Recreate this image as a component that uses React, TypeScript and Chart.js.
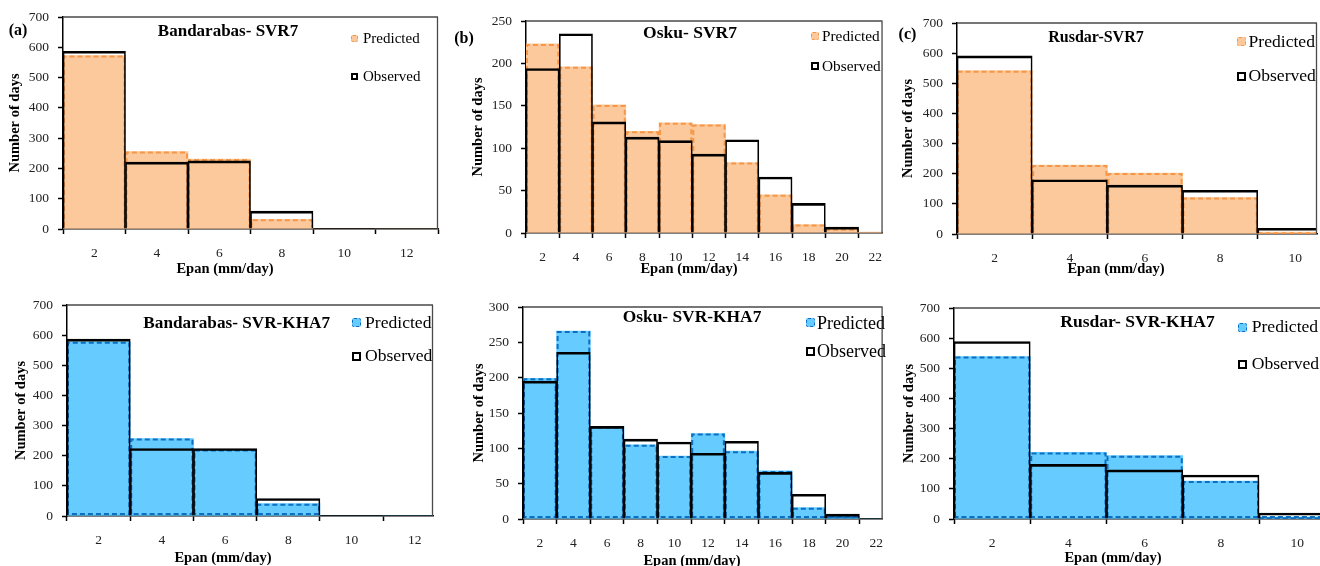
import React, { useEffect, useRef } from 'react';
import { Chart, registerables } from 'chart.js';

Chart.register(...registerables);

// ---------- DATA ----------
const bandarabasBins = [2, 4, 6, 8, 10, 12];
const bandarabasSvrObserved = [587, 221, 225, 59, 1, 0];
const bandarabasSvrPredicted = [573, 256, 231, 32, 0, 0];
const bandarabasKhaObserved = [587, 224, 224, 58, 2, 0];
const bandarabasKhaPredicted = [578, 257, 221, 41, 0, 0];

const oskuBins = [2, 4, 6, 8, 10, 12, 14, 16, 18, 20, 22];
const oskuSvrObserved = [194, 235, 131, 113, 109, 93, 110, 66, 35, 7, 0];
const oskuSvrPredicted = [223, 196, 151, 120, 130, 128, 83, 45, 10, 5, 1];
const oskuKhaObserved = [195, 236, 131, 113, 109, 93, 110, 66, 35, 7, 0];
const oskuKhaPredicted = [199, 266, 131, 105, 89, 121, 96, 68, 16, 4, 0];

const rusdarBins = [2, 4, 6, 8, 10];
const rusdarSvrObserved = [591, 180, 162, 145, 19];
const rusdarSvrPredicted = [542, 229, 202, 121, 6];
const rusdarKhaObserved = [589, 181, 163, 146, 20];
const rusdarKhaPredicted = [539, 221, 210, 126, 6];

const panelTitles = [
  'Bandarabas- SVR7',
  'Osku- SVR7',
  'Rusdar-SVR7',
  'Bandarabas- SVR-KHA7',
  'Osku- SVR-KHA7',
  'Rusdar- SVR-KHA7',
];
const panelLetters = ['(a)', '(b)', '(c)'];
const yAxisTitle = 'Number of days';
const xAxisTitle = 'Epan (mm/day)';
const legendPredicted = 'Predicted';
const legendObserved = 'Observed';

// ---------- STYLES / LAYOUT ----------
const SERIF = '"Liberation Serif", "Times New Roman", serif';
const ORANGE_FILL = '#FBC99C';
const ORANGE_DASH = '#F79646';
const BLUE_FILL = '#66CCFF';
const BLUE_DASH = '#0B6FC4';
const Y_AXIS_W = 62;
const X_AXIS_H = 50;
const PAD_TOP = 20;

type Spec = {
  bins: number[];
  observed: number[];
  predicted: number[];
  fill: string;
  dash: string;
  dashBottom: boolean;
  plot: { l: number; t: number; r: number; b: number };
  padR: number;
  xMax: number;
  yMax: number;
  yStep: number;
  yTitleX: number;
  rightBorder: boolean;
  title: string;
  titlePos: [number, number];
  titleSize: number;
  letter?: string;
  letterPos?: [number, number];
  legend: { ml: number; tl: number; y1: number; y2: number; size: number; ms: number };
  xTitlePos: [number, number];
};

const specs: Spec[] = [
  {
    bins: bandarabasBins, observed: bandarabasSvrObserved, predicted: bandarabasSvrPredicted,
    fill: ORANGE_FILL, dash: ORANGE_DASH, dashBottom: false,
    plot: { l: 63, t: 17, r: 438, b: 229 }, padR: 2, xMax: 13, yMax: 700, yStep: 100,
    yTitleX: 15, rightBorder: true,
    title: panelTitles[0], titlePos: [228, 30], titleSize: 17,
    letter: panelLetters[0], letterPos: [18, 29.5],
    legend: { ml: 351, tl: 363, y1: 38, y2: 76, size: 15, ms: 7 },
    xTitlePos: [225, 268],
  },
  {
    bins: oskuBins, observed: oskuSvrObserved, predicted: oskuSvrPredicted,
    fill: ORANGE_FILL, dash: ORANGE_DASH, dashBottom: false,
    plot: { l: 526, t: 21, r: 892, b: 233 }, padR: 1, xMax: 22.44, yMax: 250, yStep: 50,
    yTitleX: 478, rightBorder: true,
    title: panelTitles[1], titlePos: [690, 32.5], titleSize: 17.5,
    letter: panelLetters[1], letterPos: [464, 38],
    legend: { ml: 811, tl: 822, y1: 36, y2: 66, size: 15.3, ms: 8 },
    xTitlePos: [689, 268],
  },
  {
    bins: rusdarBins, observed: rusdarSvrObserved, predicted: rusdarSvrPredicted,
    fill: ORANGE_FILL, dash: ORANGE_DASH, dashBottom: false,
    plot: { l: 957, t: 23, r: 1317, b: 234 }, padR: 3, xMax: 10.576, yMax: 700, yStep: 100,
    yTitleX: 908, rightBorder: true,
    title: panelTitles[2], titlePos: [1096, 36.5], titleSize: 16,
    letter: panelLetters[2], letterPos: [907.5, 34],
    legend: { ml: 1237, tl: 1248.5, y1: 41.7, y2: 76, size: 17.6, ms: 9 },
    xTitlePos: [1116, 268],
  },
  {
    bins: bandarabasBins, observed: bandarabasKhaObserved, predicted: bandarabasKhaPredicted,
    fill: BLUE_FILL, dash: BLUE_DASH, dashBottom: true,
    plot: { l: 67, t: 305, r: 433, b: 516 }, padR: 2, xMax: 12.576, yMax: 700, yStep: 100,
    yTitleX: 21.7, rightBorder: true,
    title: panelTitles[3], titlePos: [236.7, 323], titleSize: 17.2,
    legend: { ml: 352, tl: 365, y1: 322.7, y2: 356, size: 17.6, ms: 9 },
    xTitlePos: [223, 556.7],
  },
  {
    bins: oskuBins, observed: oskuKhaObserved, predicted: oskuKhaPredicted,
    fill: BLUE_FILL, dash: BLUE_DASH, dashBottom: true,
    plot: { l: 523, t: 307, r: 893, b: 519 }, padR: 1, xMax: 22.38, yMax: 300, yStep: 50,
    yTitleX: 479.3, rightBorder: true,
    title: panelTitles[4], titlePos: [692, 317.3], titleSize: 17.4,
    legend: { ml: 806, tl: 817, y1: 322.7, y2: 351, size: 18, ms: 9 },
    xTitlePos: [692, 560],
  },
  {
    bins: rusdarBins, observed: rusdarKhaObserved, predicted: rusdarKhaPredicted,
    fill: BLUE_FILL, dash: BLUE_DASH, dashBottom: true,
    plot: { l: 954, t: 308, r: 1320, b: 519 }, padR: 0, xMax: 10.6, yMax: 700, yStep: 100,
    yTitleX: 909.3, rightBorder: false,
    title: panelTitles[5], titlePos: [1137.5, 321.7], titleSize: 17.5,
    legend: { ml: 1238, tl: 1251.7, y1: 327.3, y2: 364, size: 17.6, ms: 9 },
    xTitlePos: [1113, 556.7],
  },
];

// ---------- PLUGINS ----------
const dashedOutline = {
  id: 'dashedOutline',
  afterDatasetDraw(chart: any, args: any, opts: any) {
    if (!opts || args.index !== opts.datasetIndex) return;
    const ctx = chart.ctx;
    const area = chart.chartArea;
    ctx.save();
    ctx.beginPath();
    ctx.rect(area.left, area.top, area.right - area.left, area.bottom - area.top);
    ctx.clip();
    ctx.setLineDash([5, 3]);
    ctx.lineWidth = 2;
    ctx.strokeStyle = opts.color;
    args.meta.data.forEach((el: any) => {
      const p = el.getProps(['x', 'y', 'base', 'width'], true);
      const h = p.base - p.y;
      if (h <= 1) return;
      const left = p.x - p.width / 2 + 1;
      const right = p.x + p.width / 2 - 1;
      const top = p.y + 1;
      const bottom = p.base - 1.5;
      ctx.beginPath();
      ctx.moveTo(left, bottom);
      ctx.lineTo(left, top);
      ctx.lineTo(right, top);
      ctx.lineTo(right, bottom);
      if (opts.bottom) ctx.lineTo(left, bottom);
      ctx.stroke();
    });
    ctx.restore();
  },
};

const frame = {
  id: 'frame',
  afterDatasetsDraw(chart: any, _args: any, opts: any) {
    const ctx = chart.ctx;
    const a = chart.chartArea;
    ctx.save();
    ctx.strokeStyle = '#4a4a4a';
    ctx.lineWidth = 1.3;
    ctx.beginPath();
    ctx.moveTo(a.left, a.top);
    ctx.lineTo(a.right, a.top);
    if (opts && opts.right) {
      ctx.moveTo(a.right - 0.5, a.top);
      ctx.lineTo(a.right - 0.5, a.bottom);
    }
    ctx.stroke();
    ctx.restore();
  },
};

// ---------- COMPONENTS ----------
function Panel({ spec }: { spec: Spec }) {
  const ref = useRef<HTMLCanvasElement | null>(null);
  const left = spec.plot.l - Y_AXIS_W;
  const top = spec.plot.t - PAD_TOP;
  const width = spec.plot.r - spec.plot.l + Y_AXIS_W + spec.padR;
  const height = spec.plot.b - spec.plot.t + PAD_TOP + X_AXIS_H;

  useEffect(() => {
    if (!ref.current) return;
    const tickFont = { family: SERIF, size: 13.5 };
    const titleFont = { family: SERIF, size: 14.5, weight: 'bold' as const };
    const chart = new Chart(ref.current, {
      type: 'bar',
      data: {
        datasets: [
          {
            label: legendObserved,
            data: spec.bins.map((b, i) => ({ x: b, y: spec.observed[i] })),
            backgroundColor: 'rgba(0,0,0,0)',
            borderColor: '#000',
            borderWidth: { top: 2, left: 1, right: 1, bottom: 0 },
            borderSkipped: false,
            grouped: false,
            categoryPercentage: 1,
            barPercentage: 1,
            order: 0,
          } as any,
          {
            label: legendPredicted,
            data: spec.bins.map((b, i) => ({ x: b, y: spec.predicted[i] })),
            backgroundColor: spec.fill,
            borderWidth: 0,
            grouped: false,
            categoryPercentage: 1,
            barPercentage: 1,
            order: 1,
          } as any,
        ],
      },
      options: {
        responsive: false,
        animation: false,
        events: [],
        layout: { padding: { left: 0, top: PAD_TOP, right: spec.padR, bottom: 0 } },
        plugins: {
          legend: { display: false },
          tooltip: { enabled: false },
          dashedOutline: { datasetIndex: 1, color: spec.dash, bottom: spec.dashBottom },
          frame: { right: spec.rightBorder },
        } as any,
        scales: {
          x: {
            type: 'linear',
            min: 1,
            max: spec.xMax,
            offset: false,
            z: 1,
            afterBuildTicks: (axis: any) => {
              axis.ticks = spec.bins.map((v) => ({ value: v }));
            },
            afterFit: (axis: any) => {
              axis.height = X_AXIS_H;
            },
            ticks: {
              autoSkip: false,
              maxRotation: 0,
              minRotation: 0,
              padding: 11,
              color: '#222',
              font: tickFont,
              callback: (v: any) => String(v),
            },
            grid: {
              offset: true,
              drawOnChartArea: false,
              drawTicks: true,
              tickLength: 5,
              tickColor: '#000',
              tickWidth: 1.5,
            },
            border: { display: true, color: '#000', width: 1.5 },
          } as any,
          y: {
            min: 0,
            max: spec.yMax,
            z: 1,
            afterFit: (axis: any) => {
              axis.width = Y_AXIS_W;
            },
            ticks: {
              stepSize: spec.yStep,
              padding: 9,
              color: '#222',
              font: tickFont,
            },
            grid: {
              drawOnChartArea: false,
              drawTicks: true,
              tickLength: 5,
              tickColor: '#000',
              tickWidth: 1.5,
            },
            border: { display: true, color: '#000', width: 1.5 },
            title: {
              display: true,
              text: yAxisTitle,
              color: '#000',
              font: titleFont,
              padding: { top: Math.max(0, spec.yTitleX - left - 8.7), bottom: 0 },
            },
          } as any,
        },
      },
      plugins: [dashedOutline, frame],
    });
    return () => chart.destroy();
  }, [spec]);

  const text = (
    content: string,
    x: number,
    y: number,
    size: number,
    bold: boolean,
    align: 'center' | 'left' = 'center'
  ) => (
    <div
      style={{
        position: 'absolute',
        left: x,
        top: y,
        transform: align === 'center' ? 'translate(-50%, -50%)' : 'translate(0, -50%)',
        fontFamily: SERIF,
        fontSize: size,
        fontWeight: bold ? 'bold' : 'normal',
        lineHeight: 1,
        whiteSpace: 'nowrap',
        color: '#000',
      }}
    >
      {content}
    </div>
  );

  const lg = spec.legend;
  return (
    <>
      <canvas
        ref={ref}
        width={width}
        height={height}
        style={{ position: 'absolute', left, top, width, height }}
      />
      {spec.letter && spec.letterPos && text(spec.letter, spec.letterPos[0], spec.letterPos[1], 16, true)}
      {text(spec.title, spec.titlePos[0], spec.titlePos[1], spec.titleSize, true)}
      <div
        style={{
          position: 'absolute',
          left: lg.ml,
          top: lg.y1 - lg.ms / 2,
          width: lg.ms,
          height: lg.ms,
          boxSizing: 'border-box',
          background: spec.fill,
          border: `1.5px dashed ${spec.dash}`,
          borderRadius: 2,
        }}
      />
      {text(legendPredicted, lg.tl, lg.y1, lg.size, false, 'left')}
      <div
        style={{
          position: 'absolute',
          left: lg.ml,
          top: lg.y2 - lg.ms / 2,
          width: lg.ms,
          height: lg.ms,
          boxSizing: 'border-box',
          background: '#fff',
          border: '2px solid #000',
        }}
      />
      {text(legendObserved, lg.tl, lg.y2, lg.size, false, 'left')}
      {text(xAxisTitle, spec.xTitlePos[0], spec.xTitlePos[1], 14.5, true)}
    </>
  );
}

export default function App() {
  return (
    <div
      style={{
        position: 'fixed',
        left: 0,
        top: 0,
        width: 1320,
        height: 566,
        overflow: 'hidden',
        background: '#fff',
      }}
    >
      {specs.map((s, i) => (
        <Panel key={i} spec={s} />
      ))}
    </div>
  );
}
